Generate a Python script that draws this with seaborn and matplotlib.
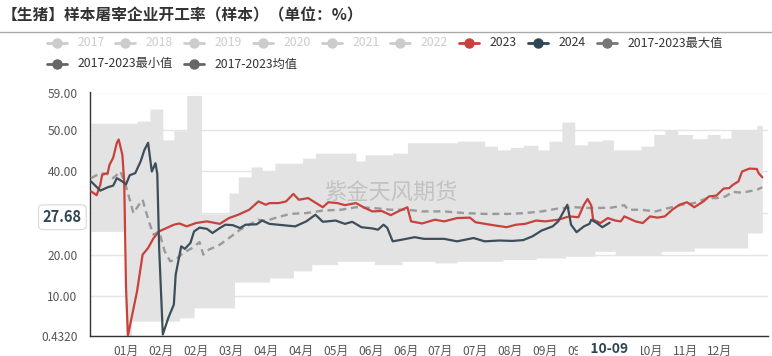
import numpy as np
import pandas as pd
import matplotlib
matplotlib.use('Agg')
import matplotlib.pyplot as plt
import seaborn as sns
from matplotlib.lines import Line2D
from matplotlib import transforms

# ---- data (day index of year, value) ----
red_day = [0, 3, 5, 6, 9, 10, 12, 14, 15, 17, 18, 19, 20, 22, 25, 28, 31, 34, 37, 41,
           45, 48, 52, 57, 63, 70, 75, 80, 86, 91, 95, 97, 102, 106, 110, 113, 118, 126,
           129, 134, 138, 144, 149, 153, 158, 163, 167, 172, 174, 180, 187, 192, 199, 206,
           209, 217, 226, 231, 236, 242, 247, 254, 260, 265, 268, 270, 272, 273, 277, 281,
           285, 288, 290, 296, 300, 304, 308, 312, 316, 320, 324, 328, 333, 336, 340, 344,
           347, 349, 352, 354, 358, 362, 363, 365]
red_val = [35.2, 34.3, 36.8, 39.2, 39.6, 41.6, 43.3, 46.9, 47.7, 44.0, 37.6, 12.0, 0.432, 4.8,
           11.2, 20.0, 21.6, 24.0, 25.6, 26.4, 27.2, 27.5, 26.8, 27.6, 28.0, 27.4, 28.8, 29.6,
           30.8, 32.8, 32.0, 32.4, 32.4, 32.8, 34.6, 33.2, 33.6, 31.4, 32.6, 32.4, 31.9, 32.4,
           31.2, 30.4, 30.5, 29.5, 30.4, 31.4, 28.0, 27.5, 28.4, 28.0, 28.8, 28.9, 27.8, 27.2,
           26.6, 27.2, 27.4, 28.2, 28.0, 28.4, 29.2, 29.0, 32.0, 33.4, 31.8, 28.4, 27.6, 28.8,
           28.2, 28.0, 29.2, 28.0, 27.6, 29.2, 28.9, 29.2, 30.8, 32.0, 32.6, 31.4, 32.8, 34.0,
           34.2, 35.9, 36.0, 36.8, 37.6, 40.0, 40.7, 40.6, 39.6, 38.6]

dark_day = [0, 5, 9, 12, 14, 17, 19, 21, 24, 27, 29, 31, 33, 35, 36, 37, 39, 42, 45, 46, 49,
            51, 54, 56, 59, 63, 66, 70, 73, 77, 81, 84, 90, 93, 97, 104, 111, 117, 122, 126,
            133, 138, 142, 147, 153, 156, 159, 161, 164, 169, 176, 181, 192, 199, 208, 214,
            222, 229, 235, 240, 245, 251, 254, 257, 259, 261, 264, 268, 271, 272, 275, 278, 282]
dark_val = [37.6, 35.4, 36.2, 36.6, 38.4, 37.6, 36.9, 39.1, 39.6, 42.5, 45.2, 46.9, 40.0, 42.0,
            39.4, 21.6, 0.8, 4.8, 8.0, 15.2, 22.0, 21.4, 22.8, 25.6, 26.5, 26.2, 25.2, 26.4,
            27.2, 27.1, 26.4, 27.2, 27.3, 28.2, 27.4, 27.1, 26.8, 28.0, 29.6, 27.9, 28.2, 27.4,
            27.9, 26.6, 26.3, 26.0, 27.2, 26.5, 23.2, 23.6, 24.2, 23.8, 23.8, 23.2, 24.0, 23.2,
            23.4, 23.3, 23.5, 24.4, 25.8, 26.8, 28.0, 30.4, 32.0, 27.2, 25.4, 26.8, 27.4, 28.4,
            27.6, 26.6, 27.68]

mean_day = [0, 5, 9, 12, 16, 19, 21, 23, 26, 28, 30, 32, 34, 37, 40, 43, 46, 50, 55, 59, 61,
            64, 70, 75, 81, 86, 91, 95, 100, 108, 117, 126, 136, 144, 154, 163, 172, 180, 192,
            203, 214, 227, 236, 245, 254, 263, 272, 283, 290, 292, 299, 307, 314, 321, 328,
            335, 340, 345, 349, 354, 362, 365]
mean_val = [38.4, 39.6, 39.4, 38.4, 40.0, 36.4, 33.2, 30.0, 32.0, 33.2, 30.1, 27.2, 24.8, 25.6,
            20.8, 18.4, 18.8, 20.4, 21.6, 23.0, 20.0, 21.2, 22.4, 24.0, 26.0, 27.2, 28.4, 28.1,
            28.8, 29.8, 30.0, 30.6, 30.8, 31.4, 31.2, 30.8, 30.8, 30.4, 30.4, 30.0, 29.8, 29.8,
            30.0, 30.4, 31.1, 31.4, 31.2, 31.3, 31.9, 30.8, 30.8, 30.4, 31.2, 32.0, 32.4, 33.6,
            33.6, 34.0, 35.1, 34.9, 35.6, 36.2]

max_day = [0, 25, 32, 39, 45, 52, 60, 75, 80, 87, 93, 100, 115, 122, 144, 149, 164, 172, 199,
           214, 221, 228, 235, 243, 249, 256, 263, 270, 278, 284, 299, 306, 312, 319, 327, 335,
           342, 348, 362]
max_val = [51.6, 52.1, 55.0, 47.6, 49.8, 58.3, 29.8, 34.8, 38.7, 41.1, 40.2, 42.0, 43.2, 44.4,
           42.5, 44.0, 44.4, 46.9, 47.3, 46.1, 45.2, 45.8, 46.3, 45.2, 47.3, 51.9, 46.4, 47.3,
           47.6, 45.2, 46.1, 48.9, 50.1, 48.9, 47.9, 48.9, 48.0, 50.1, 51.1]

min_day = [0, 19, 22, 48, 56, 78, 97, 110, 120, 134, 154, 169, 187, 199, 224, 242, 258, 274,
           285, 310, 328, 357]
min_val = [25.6, 0.432, 4.0, 4.8, 7.2, 13.4, 14.4, 16.1, 17.6, 18.4, 17.6, 18.4, 18.0, 18.4,
           18.8, 19.2, 19.6, 20.8, 20.0, 20.8, 21.6, 25.2]

dates = pd.date_range('2024-01-01', periods=366, freq='D')
tick_pos = list(range(19, 343, 19))
y_ticks = [0.432, 10, 20, 30, 40, 50, 59]
y_labels = ['0.4320', '10.00', '20.00', '', '40.00', '50.00', '59.00']

legend_items = [
    ('2017', '#cccccc', True), ('2018', '#cccccc', True), ('2019', '#cccccc', True),
    ('2020', '#cccccc', True), ('2021', '#cccccc', True), ('2022', '#cccccc', True),
    ('2023', '#c8413c', False), ('2024', '#2f4554', False), ('2017-2023最大值', '#777777', False),
    ('2017-2023最小值', '#666666', False), ('2017-2023均值', '#666666', False),
]
legend_px = [(47, 43), (115, 43), (184, 43), (253, 43), (322, 43), (390, 43), (459, 43),
             (528, 43), (597, 43), (47, 64), (184, 64)]

# ---- style ----
sns.set_theme(style='white')
plt.rcParams['font.family'] = ['Noto Sans CJK SC', 'DejaVu Sans']

W, H = 772, 356
fig = plt.figure(figsize=(W / 100, H / 100), dpi=100)
ax = fig.add_axes([90 / W, (H - 336) / H, 678 / W, (336 - 92.5) / H])

# band
days_all = np.arange(0, 366)
hi = pd.Series(max_val, index=max_day).reindex(days_all, method='ffill').values
lo = pd.Series(min_val, index=min_day).reindex(days_all, method='ffill').values
ax.fill_between(days_all, lo, hi, step='post', color='#e3e3e3', lw=0, zorder=1)

# watermark
ax.text(163, 34.8, '紫金天风期货', color='#bdbdbd', fontsize=16, ha='center', va='center',
        alpha=0.85, zorder=1.5)

sns.lineplot(x=mean_day, y=mean_val, ax=ax, color='#9a9a9a', linewidth=1.7, zorder=3)
ax.get_lines()[-1].set_linestyle((0, (3, 2)))
sns.lineplot(x=red_day, y=red_val, ax=ax, color='#c8413c', linewidth=1.6, zorder=4)
sns.lineplot(x=dark_day, y=dark_val, ax=ax, color='#3d4e5a', linewidth=1.6, zorder=5)

ax.set_xlim(-0.6, 368.1)
ax.set_ylim(0.432, 59)
ax.set_yticks(y_ticks)
ax.set_yticklabels(y_labels)
ax.set_xticks(tick_pos)
ax.set_xticklabels([dates[i].strftime('%m月') for i in tick_pos])
ax.set_xlabel('')
ax.set_ylabel('')
ax.grid(axis='y', color='#e4e4e4', linewidth=1)
ax.set_axisbelow(True)
for s in ['top', 'right']:
    ax.spines[s].set_visible(False)
for s in ['left', 'bottom']:
    ax.spines[s].set_color('#333333')
    ax.spines[s].set_linewidth(1)
ax.tick_params(axis='both', colors='#333333', labelcolor='#555555', labelsize=8.6,
               length=5, width=1, direction='out')
ax.tick_params(axis='x', pad=1.5)
ax.tick_params(axis='y', pad=4)

# axis pointer labels
blend_y = transforms.blended_transform_factory(ax.transAxes, ax.transData)
ax.text(-0.012, 29.0, '27.68', transform=blend_y, ha='right', va='center', fontsize=10.5,
        fontweight='bold', color='#2f4554', zorder=10,
        bbox=dict(boxstyle='round,pad=0.3', fc='white', ec='#d8d8d8', lw=0.8))
blend_x = transforms.blended_transform_factory(ax.transData, ax.transAxes)
ax.text(282, -0.055, '   10-09   ', transform=blend_x, ha='center', va='center',
        fontsize=10, fontweight='bold', color='#2f4554', zorder=10,
        bbox=dict(boxstyle='square,pad=0.25', fc='white', ec='none'))

# title and separator
fig.text(2 / W, 1 - 15 / H, '【生猪】样本屠宰企业开工率（样本）（单位：%）', fontsize=11.3,
         fontweight='bold', color='#333333', ha='left', va='center')
fig.add_artist(Line2D([0, 1], [1 - 32 / H] * 2, color='#aaaaaa', lw=1))

# legend
for (label, color, off), (px, py) in zip(legend_items, legend_px):
    yy = 1 - py / H
    fig.add_artist(Line2D([px / W, (px + 20) / W], [yy, yy], color=color, lw=2))
    fig.add_artist(Line2D([(px + 10) / W], [yy], color=color, marker='o', markersize=6.5,
                          linestyle='none'))
    fig.text((px + 31) / W, yy, label, fontsize=8.8, color='#cccccc' if off else '#333333',
             ha='left', va='center')

fig.savefig('out.png', dpi=100)
